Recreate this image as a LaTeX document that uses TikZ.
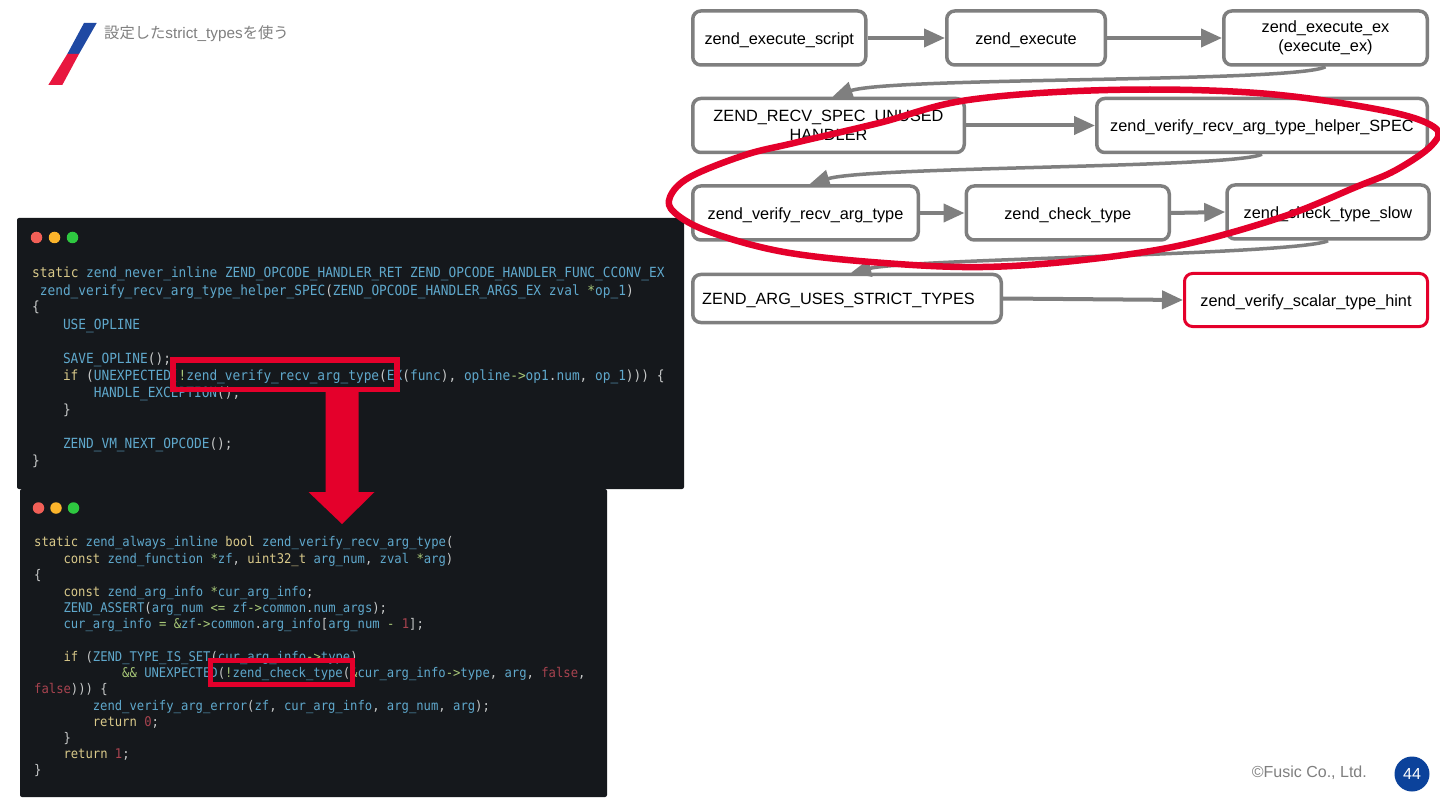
\documentclass[tikz,border=0pt]{standalone}
\usepackage{fontspec}
\setmainfont{Liberation Sans}
\newfontfamily\cjkfont{Noto Sans CJK JP}
\newfontfamily\codefont[FakeStretch=0.915]{DejaVu Sans Mono}
\usetikzlibrary{arrows.meta, positioning}

\definecolor{flowgray}{HTML}{7F7F7F}
\definecolor{markred}{HTML}{E4002B}
\definecolor{panelbg}{HTML}{15181C}
\definecolor{codekw}{HTML}{D9C98A}
\definecolor{codeid}{HTML}{5FA8CC}
\definecolor{codeop}{HTML}{A8C878}
\definecolor{codelit}{HTML}{A8434F}
\definecolor{codepun}{HTML}{C8CACA}
\definecolor{logoblue}{HTML}{1F49A3}
\definecolor{logored}{HTML}{E8173F}
\definecolor{pageblue}{HTML}{0B429B}
\definecolor{dotred}{HTML}{F15F57}
\definecolor{dotyellow}{HTML}{FBB42B}
\definecolor{dotgreen}{HTML}{2EC840}

\newcommand{\kw}[1]{\textcolor{codekw}{#1}}
\newcommand{\idn}[1]{\textcolor{codeid}{#1}}
\newcommand{\opr}[1]{\textcolor{codeop}{#1}}
\newcommand{\lit}[1]{\textcolor{codelit}{#1}}

\begin{document}
\begin{tikzpicture}[x=1pt, y=-1pt,
      blk/.style={draw=flowgray, line width=3.5pt, rounded corners=8pt, fill=white, inner sep=0pt,
                  minimum height=54pt, align=center, font=\fontsize{16.3}{19.5}\selectfont,
                  execute at begin node={\leavevmode\rule{0pt}{15.7pt}}},
      hit/.style={blk, draw=markred, line width=3pt},
      arr/.style={-{Triangle[length=21pt, width=18pt]}, flowgray, line width=4pt},
      crv/.style={-{Triangle[length=20pt, width=17pt]}, flowgray, line width=3.5pt},
      panel/.style={fill=panelbg, rounded corners=2pt},
      dot/.style={circle, inner sep=0pt, minimum size=11.5pt},
      lna/.style={anchor=base west, inner sep=0pt, text=codepun, font=\codefont\fontsize{14}{16}\selectfont},
      lnb/.style={anchor=base west, inner sep=0pt, text=codepun, font=\codefont\fontsize{13.35}{16}\selectfont},
      lbl/.style={text=flowgray, inner sep=0pt, font=\fontsize{15.3}{17}\selectfont},
      hilite/.style={draw=markred, line width=5.5pt}]

    \path[use as bounding box, fill=white] (0,0) rectangle (1440,810);

    % Logo and title
    \fill[logoblue] (84,23) -- (96.7,23) -- (79,54) -- (67.3,54) -- cycle;
    \fill[logored] (67.3,54) -- (79,54) -- (62.3,85) -- (48.3,85) -- cycle;
    \node[lbl, anchor=west] (title) at (104,34) {{\cjkfont 設定した}strict\_types{\cjkfont を使う}};

    % Lower code panel
    \fill[panel] (20,489) rectangle (607,797);
    \node[dot, fill=dotred] (closeb) at (38.5,508) {};
    \node[dot, fill=dotyellow] (minb) at (56,508) {};
    \node[dot, fill=dotgreen] (maxb) at (73.5,508) {};
    \node[lnb] (b1) at (34,546) {\kw{static} \idn{zend\_always\_inline} \kw{bool} \idn{zend\_verify\_recv\_arg\_type}(};
    \node[lnb] (b2) at (63.3,563) {\kw{const} \idn{zend\_function} \opr{*}\idn{zf}, \kw{uint32\_t} \idn{arg\_num}, \idn{zval} \opr{*}\idn{arg})};
    \node[lnb] (b3) at (34,579) {\{};
    \node[lnb] (b4) at (63.3,596) {\kw{const} \idn{zend\_arg\_info} \opr{*}\idn{cur\_arg\_info};};
    \node[lnb] (b5) at (63.3,612) {\idn{ZEND\_ASSERT}(\idn{arg\_num} \opr{<=} \idn{zf}\opr{->}\idn{common}.\idn{num\_args});};
    \node[lnb] (b6) at (63.3,628) {\idn{cur\_arg\_info} \opr{=} \opr{\&}\idn{zf}\opr{->}\idn{common}.\idn{arg\_info}[\idn{arg\_num} \opr{-} \lit{1}];};
    \node[lnb] (b7) at (63.3,661) {\kw{if} (\idn{ZEND\_TYPE\_IS\_SET}(\idn{cur\_arg\_info}\opr{->}\idn{type})};
    \node[lnb] (b8) at (122,677) {\opr{\&\&} \idn{UNEXPECTED}(\opr{!}\idn{zend\_check\_type}(\opr{\&}\idn{cur\_arg\_info}\opr{->}\idn{type}, \idn{arg}, \lit{false},};
    \node[lnb] (b9) at (34,693) {\lit{false}))) \{};
    \node[lnb] (b10) at (92.6,710) {\idn{zend\_verify\_arg\_error}(\idn{zf}, \idn{cur\_arg\_info}, \idn{arg\_num}, \idn{arg});};
    \node[lnb] (b11) at (92.6,726) {\kw{return} \lit{0};};
    \node[lnb] (b12) at (63.3,742) {\}};
    \node[lnb] (b13) at (63.3,758) {\kw{return} \lit{1};};
    \node[lnb] (b14) at (34,774.5) {\}};

    % Upper code panel
    \fill[panel] (17,218) rectangle (684,489);
    \node[dot, fill=dotred] (closea) at (36.5,237.5) {};
    \node[dot, fill=dotyellow] (mina) at (54.5,237.5) {};
    \node[dot, fill=dotgreen] (maxa) at (72.5,237.5) {};
    \node[lna] (a1) at (32,278) {\kw{static} \idn{zend\_never\_inline} \idn{ZEND\_OPCODE\_HANDLER\_RET} \idn{ZEND\_OPCODE\_HANDLER\_FUNC\_CCONV\_EX}};
    \node[lna] (a2) at (39.7,295.5) {\idn{zend\_verify\_recv\_arg\_type\_helper\_SPEC}(\idn{ZEND\_OPCODE\_HANDLER\_ARGS\_EX} \idn{zval} \opr{*}\idn{op\_1})};
    \node[lna] (a3) at (32,312) {\{};
    \node[lna] (a4) at (62.8,329) {\idn{USE\_OPLINE}};
    \node[lna] (a5) at (62.8,363) {\idn{SAVE\_OPLINE}();};
    \node[lna] (a6) at (62.8,380) {\kw{if} (\idn{UNEXPECTED}(\opr{!}\idn{zend\_verify\_recv\_arg\_type}(\idn{EX}(\idn{func}), \idn{opline}\opr{->}\idn{op1}.\idn{num}, \idn{op\_1}))) \{};
    \node[lna] (a7) at (93.6,397) {\idn{HANDLE\_EXCEPTION}();};
    \node[lna] (a8) at (62.8,414) {\}};
    \node[lna] (a9) at (62.8,448) {\idn{ZEND\_VM\_NEXT\_OPCODE}();};
    \node[lna] (a10) at (32,465) {\}};

    % Highlights and the arrow between the panels
    \fill[markred] (325.5,390) -- (358.5,390) -- (358.5,492) -- (374.5,492) -- (342,524) -- (308.5,492) -- (325.5,492) -- cycle;
    \draw[hilite] (173,360) rectangle (397,389.5);
    \draw[hilite, line width=5pt] (210.5,660.5) rectangle (352.5,684);

    % Call chain
    \node[blk, minimum width=173pt] (script) at (779.25,38) {zend\_execute\_script};
    \node[blk, minimum width=158.5pt] (exec) at (1026,38) {zend\_execute};
    \node[blk, minimum width=203.5pt] (execex) at (1325.5,38) {zend\_execute\_ex\\(execute\_ex)};
    \node[blk, minimum width=271.5pt] (recv) at (828.5,125.5) {ZEND\_RECV\_SPEC\_UNUSED\\HANDLER};
    \node[blk, minimum width=330.5pt] (helper) at (1262,125.5) {zend\_verify\_recv\_arg\_type\_helper\_SPEC};
    \node[blk, minimum width=225.5pt] (verify) at (805.5,213) {zend\_verify\_recv\_arg\_type};
    \node[blk, minimum width=203pt] (check) at (1067.75,213) {zend\_check\_type};
    \node[blk, minimum width=202pt] (slow) at (1328,212) {zend\_check\_type\_slow};
    \node[blk, minimum width=308.5pt, minimum height=48pt] (strict) at (847,298.5) {ZEND\_ARG\_USES\_STRICT\_TYPES\hspace{17pt}};
    \node[hit, minimum width=243pt, minimum height=53pt] (hint) at (1306,300) {zend\_verify\_scalar\_type\_hint};

    \draw[arr] (script.east) -- (exec.west);
    \draw[arr] (exec.east) -- (execex.west);
    \draw[arr] (recv.east) -- (helper.west);
    \draw[arr] (verify.east) -- (check.west);
    \draw[arr] (check.east) -- (slow.west);
    \draw[arr] (strict.east) -- (hint.west);

    % Wrap-around connectors
    \draw[crv] (execex.south) .. controls +(-30,16) and +(60,-20) .. ([xshift=4pt]recv.north);
    \draw[crv] (helper.south) .. controls +(-30,14) and +(60,-18) .. ([xshift=4pt]verify.north);
    \draw[crv] (slow.south) .. controls +(-30,14) and +(60,-14) .. ([xshift=4pt]strict.north);

    % Hand-drawn ring
    \draw[markred, line width=6.5pt] plot[smooth cycle, tension=0.6] coordinates {
      (1108,90) (1257,93) (1381,110) (1434,127) (1432,145) (1396,170) (1356,187)
      (1282,217) (1182,245) (1083,260) (983,267) (884,263) (784,252) (710,232)
      (675,213) (670,197) (690,177) (745,155) (794,143) (879,123) (968,100)};

    % Footer
    \node[lbl, anchor=east, font=\fontsize{16}{18}\selectfont] (copy) at (1367,773) {©Fusic Co., Ltd.};
    \node[circle, fill=pageblue, minimum size=35pt, inner sep=0pt, text=white, font=\fontsize{16}{18}\selectfont] (page) at (1412,774) {44};

    \end{tikzpicture}
\end{document}
